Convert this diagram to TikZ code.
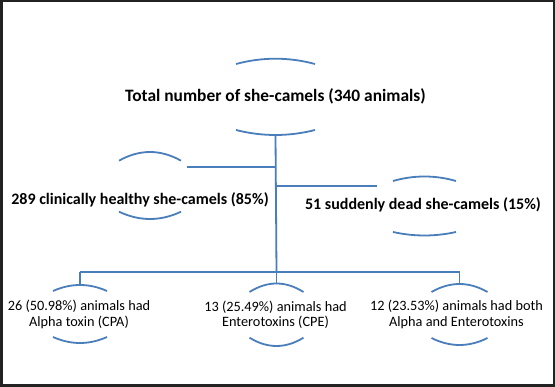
\documentclass[tikz,border=0pt]{standalone}
\usepackage{fontspec}
\setmainfont{Carlito}
\definecolor{lineblue}{HTML}{4A7EBB}
\definecolor{frame}{HTML}{222222}
\newcommand\ovalarcs[7]{% cx, x half, top end y, top apex y, bottom end y, bottom apex y, name
  \draw[arcline] (#1-#2,#3) .. controls (#1-#2/3,#4-0.333*#3+0.333*#4) and (#1+#2/3,#4-0.333*#3+0.333*#4) .. (#1+#2,#3);
  \draw[arcline] (#1-#2,#5) .. controls (#1-#2/3,#6-0.333*#5+0.333*#6) and (#1+#2/3,#6-0.333*#5+0.333*#6) .. (#1+#2,#5);
  \coordinate (#7-bot) at (#1,#6);
  \coordinate (#7-top) at (#1,#4);
}
\begin{document}
\begin{tikzpicture}[x=1pt,y=-1pt,
  arcline/.style={draw=lineblue,line width=1.8pt},
  conn/.style={draw=lineblue,line width=1.8pt},
  lbl/.style={font=\fontsize{16}{18}\selectfont\bfseries,inner sep=0pt,anchor=base},
  sub/.style={font=\fontsize{14.3}{15.3}\selectfont,align=center,inner sep=0pt}]
\fill[white] (0,0) rectangle (555,387);
\draw[frame,line width=2.5pt] (1.25,1.25) rectangle (553.75,385.75);
\useasboundingbox (0,0) rectangle (555,387);
% total
\node[lbl,font=\fontsize{17.4}{19}\selectfont\bfseries] (total) at (275.5,102) {Total number of she-camels (340 animals)};
\ovalarcs{275.5}{39.5}{64}{58.7}{130}{135}{T}
% healthy
\node[lbl] (healthy) at (140,205) {289 clinically healthy she-camels (85\%)};
\ovalarcs{150}{31}{160.7}{152}{211.7}{219}{H}
% dead
\node[lbl] (dead) at (423,210) {51 suddenly dead she-camels (15\%)};
\ovalarcs{424.5}{31.5}{181}{176.5}{232}{235.5}{D}
% bottom nodes
\node[sub] (cpa) at (79,314.5) {26 (50.98\%) animals had\\Alpha toxin (CPA)};
\ovalarcs{80}{27}{291}{285}{337}{343}{A}
\node[sub] (cpe) at (275.5,314.5) {13 (25.49\%) animals had\\Enterotoxins (CPE)};
\ovalarcs{276.5}{27}{292}{283.5}{337.7}{346}{E}
\node[sub] (both) at (456.5,314.5) {12 (23.53\%) animals had both\\Alpha and Enterotoxins};
\ovalarcs{459.5}{28}{292}{284}{338}{345}{B}
% connectors
\coordinate (bus) at (276.5,272);
\coordinate (Hend) at (187,167);
\coordinate (Dend) at (377,186);
\draw[conn] (T-bot) -- (bus);
\draw[conn] (T-bot |- Hend) -- (Hend);
\draw[conn] (T-bot |- Dend) -- (Dend);
\draw[conn] (A-top |- bus) -- (B-top |- bus);
\draw[conn] (A-top |- bus) -- (A-top);
\draw[conn] (bus) -- (E-top);
\draw[conn] (B-top |- bus) -- (B-top);
\end{tikzpicture}
\end{document}
